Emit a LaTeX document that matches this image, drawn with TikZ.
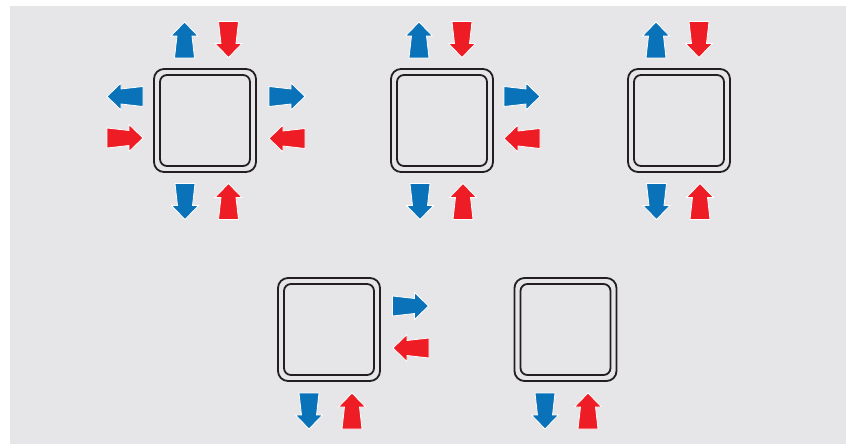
\documentclass[tikz,border=0pt]{standalone}
\usetikzlibrary{calc}
\definecolor{bgcol}{HTML}{E6E6E8}
\definecolor{flowblue}{HTML}{0A72B9}
\definecolor{flowred}{HTML}{EE1C25}
\definecolor{boxline}{HTML}{231F20}
\tikzset{
  outerbox/.style={draw=boxline, line width=1.8pt, rounded corners=10pt, minimum width=102pt, minimum height=103pt, inner sep=0pt},
  innerbox/.style={draw=boxline, line width=1.8pt, rounded corners=7pt, minimum width=90pt, minimum height=91pt, inner sep=0pt},
  flowarrow/.pic={\path[pic actions] (-18,-10) -- (4,-7.5) -- (4,-13.5) -- (18,0) -- (4,13.5) -- (4,7.5) -- (-18,10) -- cycle;},
  bluearrow/.style={fill=flowblue, draw=white, line width=0.8pt, line join=miter},
  redarrow/.style={fill=flowred, draw=white, line width=0.8pt, line join=miter},
  up/.style={rotate=90}, down/.style={rotate=-90}, left/.style={rotate=180}
}
\begin{document}
\begin{tikzpicture}[x=1pt,y=-1pt]
\useasboundingbox (0,0) rectangle (846,444);
\fill[bgcol] (10,6) rectangle (846,444);
% boxes
\node[outerbox] (b1) at (205,120.5) {};
\node[innerbox] (b1i) at (b1) {};
\node[outerbox] (b2) at (442,120.5) {};
\node[innerbox] (b2i) at (b2) {};
\node[outerbox] (b3) at (679,120.5) {};
\node[innerbox] (b3i) at (b3) {};
\node[outerbox] (b4) at (329,329.5) {};
\node[innerbox] (b4i) at (b4) {};
\node[outerbox] (b5) at (565.5,329.5) {};
\node[innerbox] (b5i) at (b5) {};
% box 1 arrows
\pic[bluearrow, up] at (184.5,40) {flowarrow};
\pic[redarrow, down] at (228.5,39.5) {flowarrow};
\pic[bluearrow, left] at (125,96.5) {flowarrow};
\pic[redarrow] at (125,138) {flowarrow};
\pic[bluearrow] at (287,96.5) {flowarrow};
\pic[redarrow, left] at (287,138.5) {flowarrow};
\pic[bluearrow, down] at (185,201.5) {flowarrow};
\pic[redarrow, up] at (228.5,201.5) {flowarrow};
% box 2 arrows
\pic[bluearrow, up] at (419,40) {flowarrow};
\pic[redarrow, down] at (462,39.5) {flowarrow};
\pic[bluearrow] at (522,96.5) {flowarrow};
\pic[redarrow, left] at (522,138.5) {flowarrow};
\pic[bluearrow, down] at (420,201.5) {flowarrow};
\pic[redarrow, up] at (463,201.5) {flowarrow};
% box 3 arrows
\pic[bluearrow, up] at (656,40) {flowarrow};
\pic[redarrow, down] at (699,39.5) {flowarrow};
\pic[bluearrow, down] at (656.5,201.5) {flowarrow};
\pic[redarrow, up] at (700,201.5) {flowarrow};
% box 4 arrows
\pic[bluearrow] at (410.5,306) {flowarrow};
\pic[redarrow, left] at (411,348) {flowarrow};
\pic[bluearrow, down] at (309,411) {flowarrow};
\pic[redarrow, up] at (352,411) {flowarrow};
% box 5 arrows
\pic[bluearrow, down] at (545,411) {flowarrow};
\pic[redarrow, up] at (588,411) {flowarrow};
\end{tikzpicture}
\end{document}
